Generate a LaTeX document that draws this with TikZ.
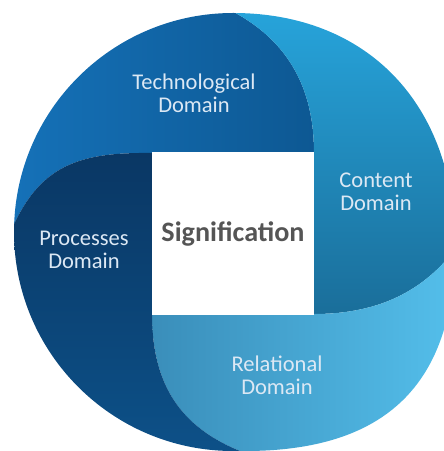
\documentclass[tikz,border=0pt]{standalone}
\usepackage{fontspec}
\setmainfont{Carlito}
\usetikzlibrary{positioning}
\definecolor{TechLight}{HTML}{1674BC}
\definecolor{TechDark}{HTML}{0D5893}
\definecolor{ContTop}{HTML}{28A9E1}
\definecolor{ContDark}{HTML}{1A6E9A}
\definecolor{RelLeft}{HTML}{3A8EBA}
\definecolor{RelRight}{HTML}{55C1ED}
\definecolor{ProcTop}{HTML}{0A3764}
\definecolor{ProcBot}{HTML}{0D528A}
\definecolor{LabelWhite}{HTML}{DCE8F4}
\definecolor{SigGray}{HTML}{555555}

\begin{document}
\begin{tikzpicture}[x=0.025cm,y=-0.025cm,
    domlabel/.style={text=LabelWhite, font=\fontsize{16}{16.5}\selectfont, align=center},
    sigbox/.style={fill=white, minimum size=4.05cm, inner sep=0pt, text=SigGray, font=\bfseries\fontsize{20}{22}\selectfont}]
    \useasboundingbox (0,0) rectangle (444,451);
    \begin{scope}
        \clip (233,13) .. controls (368,13) and (455,105) .. (455,245)
            .. controls (455,385) and (385,451) .. (245,451)
            -- (233,451) arc[start angle=90, end angle=270, radius=219] -- cycle;
        \shade[left color=TechLight, right color=TechDark]
            (152,153) -- (314,153) .. controls (314,90) and (290,35) .. (215,3)
            -- (215,-20) -- (-20,-20) -- (-20,260) -- (0,260)
            .. controls (30,168) and (70,152) .. (152,153) -- cycle;
        \shade[top color=ContTop, bottom color=ContDark]
            (314,153) -- (314,314) .. controls (380,314) and (430,290) .. (465,235)
            -- (470,-20) -- (215,-20) -- (215,3)
            .. controls (290,35) and (314,90) .. (314,153) -- cycle;
        \shade[left color=RelLeft, right color=RelRight]
            (314,314) -- (152,314) .. controls (152,390) and (185,435) .. (260,458)
            -- (260,470) -- (470,470) -- (470,235) -- (465,235)
            .. controls (430,290) and (380,314) .. (314,314) -- cycle;
        \shade[top color=ProcTop, bottom color=ProcBot]
            (152,314) -- (152,153) .. controls (70,152) and (30,168) .. (0,260)
            -- (-20,260) -- (-20,470) -- (260,470) -- (260,458)
            .. controls (185,435) and (152,390) .. (152,314) -- cycle;
    \end{scope}
    \node[sigbox] (signif) at (233,233.5) {Signification};
    \node[domlabel] (tech) at (194,93) {Technological\\Domain};
    \node[domlabel] (content) at (376,192) {Content\\Domain};
    \node[domlabel] (processes) at (84,250) {Processes\\Domain};
    \node[domlabel] (relational) at (277,375) {Relational\\Domain};
\end{tikzpicture}
\end{document}
